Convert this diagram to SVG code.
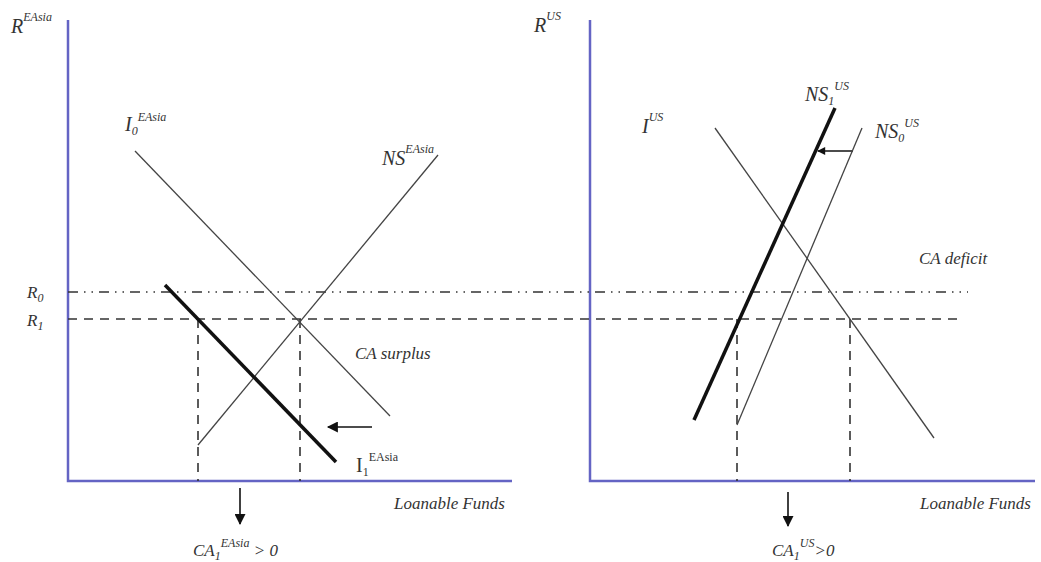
<svg xmlns="http://www.w3.org/2000/svg" width="1041" height="562" viewBox="0 0 1041 562">
<defs>
<style>
.axis{stroke:#6464c4;stroke-width:2.5;fill:none}
.thin{stroke:#444;stroke-width:1.3;fill:none}
.thick{stroke:#111;stroke-width:3.5;fill:none}
.dash{stroke:#333;stroke-width:1.6;stroke-dasharray:9,7;fill:none}
.dashdot{stroke:#333;stroke-width:1.6;stroke-dasharray:10,6,1.5,6,1.5,6;fill:none}
.arr{stroke:#111;stroke-width:1.6;fill:none}
text{font-family:"Liberation Serif",serif;fill:#333;font-style:italic;font-size:17px}
.big{font-size:20px}
.sup{font-size:12px}
.up{font-style:normal}
</style>
<marker id="ah" viewBox="0 0 10 10" refX="9" refY="5" markerWidth="9" markerHeight="8" markerUnits="userSpaceOnUse" orient="auto">
<path d="M0,0 L10,5 L0,10 z" fill="#111"/>
</marker>
<marker id="ahb" viewBox="0 0 10 10" refX="9" refY="5" markerWidth="14" markerHeight="11" markerUnits="userSpaceOnUse" orient="auto">
<path d="M0,0 L10,5 L0,10 z" fill="#111"/>
</marker>
</defs>

<g id="axes">
<polyline class="axis" points="68,20 68,481 512,481"/>
<polyline class="axis" points="590,20 590,481 1035,481"/>
</g>

<g id="connectors">
<line class="dashdot" x1="68" y1="292" x2="968" y2="292"/>
<line class="dash" x1="68" y1="319" x2="958" y2="319"/>
<line class="dash" x1="198" y1="319" x2="198" y2="481"/>
<line class="dash" x1="300" y1="319" x2="300" y2="481"/>
<line class="dash" x1="737" y1="319" x2="737" y2="481"/>
<line class="dash" x1="850" y1="319" x2="850" y2="481"/>
<line class="arr" x1="372" y1="427" x2="328" y2="427" marker-end="url(#ahb)"/>
<line class="arr" x1="853" y1="151" x2="818" y2="151" marker-end="url(#ah)"/>
<line class="arr" x1="240" y1="488" x2="240" y2="524" marker-end="url(#ahb)"/>
<line class="arr" x1="788" y1="492" x2="788" y2="526" marker-end="url(#ahb)"/>
</g>

<g id="curve-I0-EAsia"><line class="thin" x1="135" y1="151" x2="390" y2="416"/></g>
<g id="curve-NS-EAsia"><line class="thin" x1="198" y1="445" x2="438" y2="155"/></g>
<g id="curve-I1-EAsia"><line class="thick" x1="165" y1="285" x2="336" y2="462"/></g>
<g id="curve-I-US"><line class="thin" x1="715" y1="128" x2="934" y2="438"/></g>
<g id="curve-NS1-US"><line class="thick" x1="694" y1="420" x2="835" y2="108"/></g>
<g id="curve-NS0-US"><line class="thin" x1="737" y1="425" x2="862" y2="128"/></g>

<g id="labels">
<text class="big" x="11" y="33">R<tspan class="sup" dy="-12">EAsia</tspan></text>
<text class="big" x="534" y="32">R<tspan class="sup" dy="-12">US</tspan></text>
<text x="27" y="298">R<tspan class="sup" dy="4">0</tspan></text>
<text x="27" y="326">R<tspan class="sup" dy="4">1</tspan></text>
<text class="big" x="125" y="131">I<tspan class="sup" dy="4">0</tspan><tspan class="sup" dy="-14">EAsia</tspan></text>
<text class="big" x="382" y="165">NS<tspan class="sup" dy="-12">EAsia</tspan></text>
<text x="355" y="359">CA surplus</text>
<text class="big up" x="356" y="472">I<tspan class="sup" dy="4">1</tspan><tspan class="sup" dy="-15">EAsia</tspan></text>
<text x="394" y="509">Loanable Funds</text>
<text x="193" y="556">CA<tspan class="sup" dy="4">1</tspan><tspan class="sup" dy="-13">EAsia</tspan><tspan dy="9"> &gt; 0</tspan></text>
<text class="big" x="642" y="133">I<tspan class="sup" dy="-12">US</tspan></text>
<text class="big" x="805" y="101">NS<tspan class="sup" dy="4">1</tspan><tspan class="sup" dy="-15">US</tspan></text>
<text class="big" x="875" y="138">NS<tspan class="sup" dy="4">0</tspan><tspan class="sup" dy="-15">US</tspan></text>
<text x="919" y="264">CA deficit</text>
<text x="920" y="509">Loanable Funds</text>
<text x="772" y="556">CA<tspan class="sup" dy="4">1</tspan><tspan class="sup" dy="-13">US</tspan><tspan dy="9">&gt;0</tspan></text>
</g>
</svg>
